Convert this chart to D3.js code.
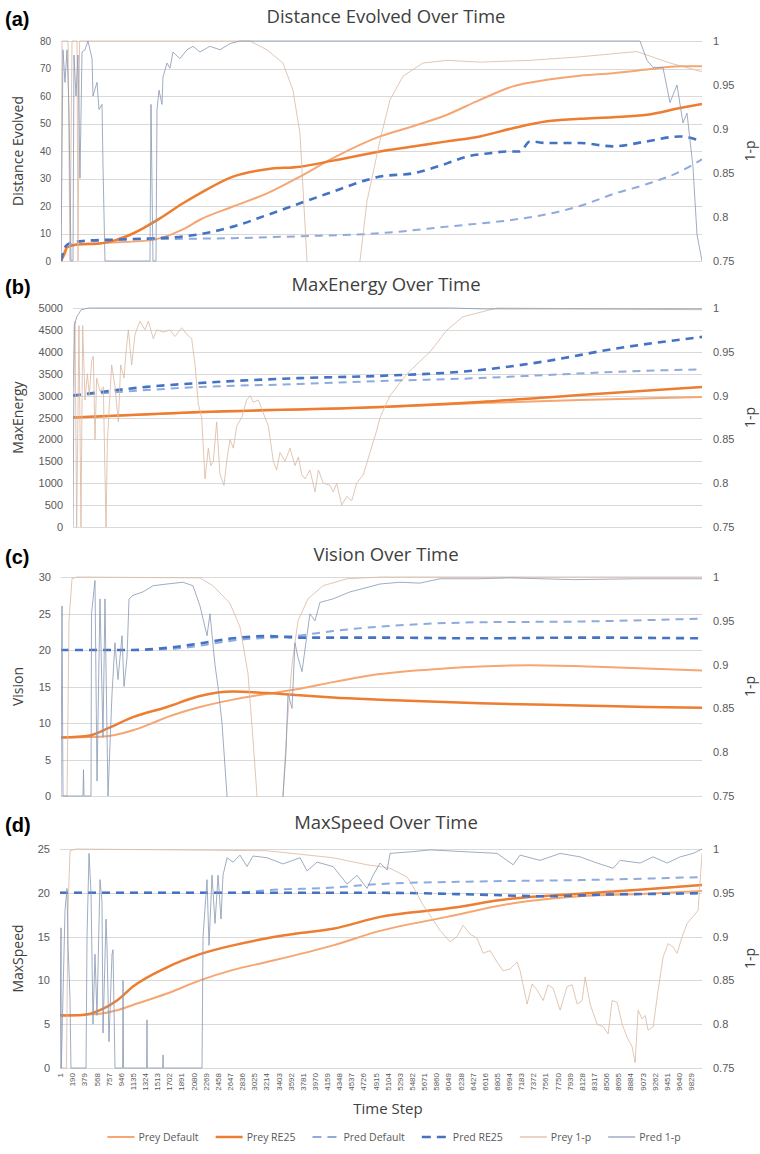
<!DOCTYPE html>
<html>
<head>
<meta charset="utf-8">
<script src="https://cdn.jsdelivr.net/npm/d3@7"></script>
<style>
  body { margin: 0; background: #fff; }
  svg { display: block; font-family: "Open Sans", "Noto Sans", sans-serif; }
</style>
</head>
<body>
<svg id="chart" width="760" height="1154"></svg>
<script>
// ---------- shared axis values ----------
const timeTicks = [1,190,379,568,757,946,1135,1324,1513,1702,1891,2080,2269,2458,2647,2836,3025,3214,3403,3592,
  3781,3970,4159,4348,4537,4726,4915,5104,5293,5482,5671,5860,6049,6238,6427,6616,6805,6994,7183,7372,
  7561,7750,7939,8128,8317,8506,8695,8884,9073,9262,9451,9640,9829];
const rightTicks = [0.75, 0.8, 0.85, 0.9, 0.95, 1];
const distTicks = [0,10,20,30,40,50,60,70,80];
const energyTicks = [0,500,1000,1500,2000,2500,3000,3500,4000,4500,5000];
const visionTicks = [0,5,10,15,20,25,30];
const speedTicks = [0,5,10,15,20,25];

// ---------- (a) Distance Evolved: [time step, value] ----------
const distPreyDefault = [[0,0],[94,5],[250,6],[608,6.5],[1388,7.5],[1544,8.3],[1903,11.5],[2168,15],[2683,19.8],[3214,24.6],
  [3728,30.7],[4243,37.4],[4976,45.3],[5491,49],[6022,53.2],[6536,58.6],[7051,63.5],[7582,65.9],[8096,67.4],[8611,68.3],
  [9142,69.6],[9656,70.8],[10000,70.8]];
const distPreyRE25 = [[0,0],[62,3],[94,5],[250,6],[608,6.4],[842,7.5],[1123,10],[1544,15.5],[1903,21],[2168,24.6],
  [2683,30.7],[3214,33.4],[3728,34.3],[4243,36.5],[4976,39.8],[5491,41.6],[6022,43.5],[6536,45.3],[7051,48.3],[7582,50.8],
  [8096,51.7],[8611,52.3],[9142,53.2],[9656,55.6],[10000,57.1]];
const distPredDefault = [[0,0],[62,5],[140,6.5],[608,7.5],[1654,8],[2683,8.3],[3728,9],[4976,10.1],[6022,12.5],[7051,15],
  [7582,17],[8096,20],[8611,24.3],[9142,28],[9656,32.5],[10000,37]];
const distPredRE25 = [[0,0],[62,5],[140,6.5],[343,7.3],[874,7.8],[1388,8.2],[1903,8.9],[2683,12.5],[3214,16.7],[3728,21],
  [4243,25.2],[4774,29.5],[4976,30.7],[5491,31.9],[6022,35.5],[6334,38],[6692,39.2],[6958,39.8],[7160,39.8],[7316,43.5],
  [7582,42.9],[8096,42.9],[8611,41.7],[9142,43.5],[9656,45.3],[10000,43.5]];
const distPrey1p = [[0,0.76],[16,1],[110,1],[140,0.75],[172,1],[250,1],[265,0.75],[290,1],[2948,1],[3214,0.99],
  [3463,0.975],[3619,0.944],[3728,0.895],[3838,0.75],[3900,0.7],[4600,0.7],[4664,0.75],[4774,0.818],[4976,0.887],[5132,0.933],
  [5335,0.96],[5647,0.975],[6022,0.978],[6536,0.976],[7316,0.978],[8096,0.982],[8985,0.988],[9500,0.975],[10000,0.965]];
const distPred1p = [[0,0.75],[31,0.99],[62,0.953],[94,0.99],[125,0.922],[156,0.75],[187,0.75],[203,0.984],[234,0.9375],[265,0.984],
  [296,0.844],[328,0.9875],[374,0.99],[421,1],[484,0.98],[499,0.9375],[562,0.953],[593,0.922],[640,0.928],[655,0.859],
  [686,0.75],[1388,0.75],[1404,0.928],[1435,0.75],[1482,0.75],[1498,0.922],[1529,0.944],[1576,0.928],[1591,0.959],[1654,0.975],
  [1700,0.969],[1747,0.9875],[1856,0.98],[1966,0.99],[2059,0.994],[2168,0.9875],[2324,0.994],[2480,0.99],[2636,0.997],[2792,1],
  [9032,1],[9142,0.978],[9235,0.97],[9391,0.97],[9500,0.93],[9610,0.95],[9703,0.907],[9766,0.918],[9859,0.857],[9922,0.78],
  [10000,0.75]];

// ---------- (b) MaxEnergy ----------
const energyPreyDefault = [[0,2500],[2019,2620],[4881,2735],[6471,2830],[8061,2900],[10000,2968]];
const energyPreyRE25 = [[0,2500],[2019,2625],[4881,2740],[6471,2854],[8061,3014],[10000,3196]];
const energyPredDefault = [[0,3000],[1177,3128],[2019,3196],[3609,3265],[4881,3333],[6471,3400],[7537,3470],[8586,3540],[10000,3600]];
const energyPredRE25 = [[0,3000],[1177,3200],[2019,3288],[3609,3400],[4881,3450],[6471,3584],[7537,3790],[8586,4064],[10000,4340]];
const energyPrey1p = [[0,0.91],[32,0.985],[58,0.75],[95,0.98],[127,0.75],[154,0.98],[191,0.895],[228,0.925],[260,0.9],[297,0.94],
  [323,0.945],[350,0.85],[376,0.92],[429,0.905],[482,0.91],[525,0.75],[546,0.845],[578,0.89],[615,0.935],[668,0.91],
  [721,0.87],[758,0.935],[811,0.92],[843,0.95],[880,0.975],[933,0.935],[986,0.97],[1065,0.985],[1145,0.975],[1198,0.985],
  [1277,0.965],[1330,0.975],[1436,0.9725],[1542,0.975],[1622,0.9675],[1728,0.9775],[1807,0.97],[1887,0.965],[1940,0.935],[1993,0.89],
  [2046,0.875],[2099,0.805],[2152,0.84],[2189,0.82],[2231,0.825],[2284,0.87],[2337,0.81],[2401,0.7975],[2443,0.825],[2496,0.85],
  [2549,0.84],[2602,0.865],[2682,0.875],[2761,0.895],[2814,0.9],[2867,0.8925],[2947,0.895],[3026,0.88],[3106,0.865],[3185,0.825],
  [3238,0.815],[3291,0.835],[3371,0.825],[3450,0.84],[3530,0.82],[3583,0.83],[3636,0.81],[3689,0.805],[3768,0.815],[3848,0.79],
  [3901,0.815],[3980,0.8],[4086,0.7975],[4139,0.79],[4192,0.8],[4272,0.775],[4351,0.785],[4431,0.78],[4510,0.8],[4616,0.81],
  [4722,0.835],[4828,0.86],[4881,0.875],[5040,0.9],[5310,0.925],[5676,0.95],[5946,0.975],[6200,0.99],[6741,1],[10000,0.998]];
const energyPred1p = [[0,0.75],[20,0.98],[60,0.99],[130,0.998],[250,1],[6000,1],[6500,0.999],[10000,0.999]];

// ---------- (c) Vision ----------
const visionPreyDefault = [[0,8],[608,8.1],[1123,9],[1400,9.9],[1654,10.8],[2168,12.2],[2683,13.2],[3214,14],[3728,14.7],[4243,15.6],
  [4976,16.7],[6022,17.5],[7316,17.9],[8362,17.7],[10000,17.2]];
const visionPreyRE25 = [[0,8],[452,8.3],[764,9.4],[1123,10.8],[1654,12.2],[2168,13.7],[2683,14.3],[3214,14.1],[3728,13.8],[4243,13.5],
  [4976,13.2],[6536,12.7],[8096,12.4],[9142,12.2],[10000,12.1]];
const visionPredDefault = [[0,20],[1123,20],[1654,20.1],[2168,20.6],[2683,21.3],[3728,22],[4243,22.6],[4976,23.2],[6536,23.8],[8096,23.9],[10000,24.3]];
const visionPredRE25 = [[0,20],[1123,20],[1654,20.3],[2168,20.9],[2683,21.6],[3214,21.9],[3728,21.7],[4976,21.7],[6536,21.6],[8096,21.7],[10000,21.6]];
const visionPrey1p = [[0,0.75],[94,0.75],[125,0.95],[172,0.998],[250,1],[2168,0.999],[2371,0.99],[2636,0.97],[2792,0.943],[2917,0.89],
  [2995,0.815],[3058,0.75],[3120,0.7],[3400,0.7],[3463,0.75],[3526,0.83],[3604,0.9],[3697,0.95],[3853,0.975],[4087,0.99],
  [4462,0.998],[5000,1],[10000,1]];
const visionPred1p = [[0,0.75],[16,0.967],[31,0.75],[343,0.75],[351,0.78],[359,0.75],[468,0.75],[476,0.958],[530,0.996],[562,0.767],
  [608,0.975],[655,0.817],[686,0.975],[733,0.75],[796,0.867],[842,0.925],[889,0.883],[952,0.933],[983,0.875],[1030,0.908],
  [1061,0.975],[1123,0.979],[1279,0.983],[1435,0.99],[1654,0.992],[1903,0.994],[2059,0.99],[2168,0.967],[2278,0.933],[2324,0.958],
  [2402,0.9],[2449,0.875],[2512,0.833],[2590,0.75],[2700,0.7],[3400,0.7],[3463,0.75],[3510,0.8],[3541,0.867],[3604,0.85],
  [3650,0.925],[3697,0.908],[3760,0.892],[3806,0.917],[3884,0.958],[3962,0.95],[4040,0.971],[4243,0.975],[4508,0.983],[4774,0.988],
  [4976,0.992],[5288,0.994],[5600,0.993],[5912,0.998],[6500,0.998],[7000,0.999],[8000,0.997],[9000,0.998],[10000,0.998]];

// ---------- (d) MaxSpeed ----------
const speedPreyDefault = [[0,6],[623,6.2],[888,6.6],[1137,7.2],[1667,8.5],[2181,10],[2695,11.2],[3225,12.1],[4253,14],[4986,15.65],
  [6030,17.25],[7058,18.8],[8102,19.6],[9130,19.9],[10000,20.2]];
const speedPreyRE25 = [[0,6],[358,6.05],[623,6.6],[888,7.7],[1137,9.3],[1667,11.5],[2181,13],[2695,14],[3225,14.8],[3739,15.4],
  [4253,15.9],[4986,17.25],[6030,18.2],[7058,19.35],[8102,19.9],[9130,20.4],[10000,20.9]];
const speedPredDefault = [[0,20],[2695,20],[3225,20.3],[4253,20.6],[4986,21],[6544,21.3],[8102,21.45],[10000,21.8]];
const speedPredRE25 = [[0,20],[3000,20],[5000,20],[6500,19.8],[7600,19.6],[8500,19.8],[9500,19.9],[10000,19.95]];
const speedPrey1p = [[0,0.75],[100,0.75],[125,0.93],[156,0.998],[250,1],[3225,0.998],[4253,0.99],[4783,0.982],[4986,0.98],[5141,0.978],
  [5406,0.968],[5500,0.957],[5655,0.936],[5811,0.919],[5920,0.907],[6076,0.894],[6185,0.9],[6279,0.913],[6388,0.903],[6497,0.898],
  [6590,0.881],[6699,0.884],[6808,0.871],[6902,0.861],[7011,0.863],[7120,0.871],[7167,0.861],[7276,0.823],[7354,0.846],[7432,0.839],
  [7525,0.827],[7603,0.845],[7681,0.841],[7790,0.816],[7899,0.843],[7977,0.845],[8055,0.823],[8133,0.827],[8180,0.854],[8257,0.823],
  [8366,0.8],[8460,0.797],[8538,0.789],[8600,0.827],[8678,0.825],[8756,0.8],[8834,0.785],[8912,0.774],[8959,0.756],[9005,0.816],
  [9067,0.806],[9114,0.81],[9161,0.793],[9239,0.797],[9317,0.839],[9395,0.877],[9473,0.892],[9551,0.888],[9613,0.881],[9691,0.9],
  [9769,0.915],[9862,0.923],[9940,0.93],[10000,0.995]];
const speedPred1p = [[0,0.75],[16,0.91],[20,0.75],[78,0.93],[109,0.955],[125,0.89],[156,0.83],[171,0.75],[405,0.75],[421,0.9],
  [452,0.995],[483,0.95],[514,0.8],[545,0.88],[576,0.81],[623,0.965],[654,0.94],[670,0.79],[717,0.92],[732,0.89],
  [763,0.78],[810,0.88],[826,0.885],[857,0.75],[975,0.75],[982,0.85],[990,0.75],[1350,0.75],[1355,0.805],[1360,0.75],
  [1600,0.75],[1605,0.765],[1610,0.75],[2212,0.75],[2228,0.9],[2290,0.965],[2321,0.89],[2368,0.97],[2415,0.915],[2462,0.97],
  [2508,0.92],[2539,0.97],[2602,0.99],[2695,0.985],[2804,0.993],[2913,0.98],[3007,0.992],[3225,0.99],[3474,0.983],[3739,0.99],
  [3848,0.975],[4004,0.985],[4253,0.98],[4471,0.96],[4627,0.97],[4783,0.955],[4877,0.97],[4986,0.984],[5095,0.976],[5141,0.995],
  [5500,0.997],[5765,0.999],[6279,0.997],[6808,0.995],[7058,0.982],[7167,0.993],[7478,0.987],[7790,0.995],[8102,0.991],[8366,0.984],
  [8616,0.978],[8724,0.987],[9036,0.984],[9239,0.991],[9457,0.984],[9660,0.991],[9862,0.995],[10000,1]];

// ---------- styles ----------
const seriesNames = ["Prey Default", "Prey RE25", "Pred Default", "Pred RE25", "Prey 1-p", "Pred 1-p"];
const seriesStyle = [
  { color: "#F5A672", width: 2,    dash: null,  secondary: false },
  { color: "#ED7D31", width: 2.5,  dash: null,  secondary: false },
  { color: "#8FAADC", width: 2,    dash: "8,6", secondary: false },
  { color: "#4472C4", width: 2.6,  dash: "8,6", secondary: false },
  { color: "#DAB7A1", width: 0.8,  dash: null,  secondary: true  },
  { color: "#8797B3", width: 0.8,  dash: null,  secondary: true  }
];

const plotRight = 702;
const panels = [
  { tag: "(a)", title: "Distance Evolved Over Time", yLabel: "Distance Evolved", left: 61, top: 41, bottom: 261,
    yMax: 80, yTicks: distTicks, tickFont: 10, baseY: 24,
    series: [distPreyDefault, distPreyRE25, distPredDefault, distPredRE25, distPrey1p, distPred1p] },
  { tag: "(b)", title: "MaxEnergy Over Time", yLabel: "MaxEnergy", left: 73, top: 308, bottom: 527,
    yMax: 5000, yTicks: energyTicks, tickFont: 11, baseY: 292,
    series: [energyPreyDefault, energyPreyRE25, energyPredDefault, energyPredRE25, energyPrey1p, energyPred1p] },
  { tag: "(c)", title: "Vision Over Time", yLabel: "Vision", left: 61, top: 577, bottom: 796,
    yMax: 30, yTicks: visionTicks, tickFont: 11, baseY: 562,
    series: [visionPreyDefault, visionPreyRE25, visionPredDefault, visionPredRE25, visionPrey1p, visionPred1p] },
  { tag: "(d)", title: "MaxSpeed Over Time", yLabel: "MaxSpeed", left: 60, top: 849, bottom: 1068,
    yMax: 25, yTicks: speedTicks, tickFont: 11, baseY: 830,
    series: [speedPreyDefault, speedPreyRE25, speedPredDefault, speedPredRE25, speedPrey1p, speedPred1p], showX: true }
];

const svg = d3.select("#chart");
svg.append("rect").attr("width", 760).attr("height", 1154).attr("fill", "#fff");
const defs = svg.append("defs");

panels.forEach((p, i) => {
  const x = d3.scaleLinear().domain([0, 10000]).range([p.left, plotRight]);
  const y = d3.scaleLinear().domain([0, p.yMax]).range([p.bottom, p.top]);
  const y2 = d3.scaleLinear().domain([0.75, 1]).range([p.bottom, p.top]);
  const g = svg.append("g");

  // panel tag and title
  g.append("text").attr("x", 5).attr("y", p.baseY + 2)
    .attr("font-family", "'Liberation Sans', Arial, sans-serif").attr("font-weight", "bold")
    .attr("font-size", 20).attr("fill", "#000").text(p.tag);
  g.append("text").attr("x", 386).attr("y", p.baseY - 1).attr("text-anchor", "middle")
    .attr("font-size", 18.5).attr("fill", "#404040").text(p.title);

  // horizontal gridlines
  g.append("g").selectAll("line").data(p.yTicks).join("line")
    .attr("x1", p.left).attr("x2", plotRight)
    .attr("y1", d => Math.round(y(d)) + 0.5).attr("y2", d => Math.round(y(d)) + 0.5)
    .attr("stroke", "#D9D9D9").attr("stroke-width", 1);

  // left axis
  const gl = g.append("g").attr("transform", `translate(${p.left},0)`)
    .call(d3.axisLeft(y).tickValues(p.yTicks).tickSize(0).tickPadding(10).tickFormat(d => String(d)));
  gl.select(".domain").remove();
  gl.selectAll("text").attr("font-size", p.tickFont).attr("fill", "#595959").attr("font-family", null);

  // right axis
  const gr = g.append("g").attr("transform", `translate(${plotRight},0)`)
    .call(d3.axisRight(y2).tickValues(rightTicks).tickSize(0).tickPadding(11).tickFormat(d => String(d)));
  gr.select(".domain").remove();
  gr.selectAll("text").attr("font-size", 11).attr("fill", "#595959").attr("font-family", null);

  // axis titles
  const midY = (p.top + p.bottom) / 2;
  g.append("text").attr("transform", `translate(23,${midY}) rotate(-90)`).attr("text-anchor", "middle")
    .attr("font-size", 14).attr("fill", "#404040").text(p.yLabel);
  g.append("text").attr("transform", `translate(755,${midY}) rotate(-90)`).attr("text-anchor", "middle")
    .attr("font-size", 14).attr("fill", "#404040").text("1-p");

  // clip region for the plot lines
  const clipId = "plotclip" + i;
  defs.append("clipPath").attr("id", clipId).append("rect")
    .attr("x", p.left).attr("y", p.top - 2).attr("width", plotRight - p.left).attr("height", p.bottom - p.top + 3);

  const lines = g.append("g").attr("clip-path", `url(#${clipId})`);
  seriesStyle.forEach((s, k) => {
    const sy = s.secondary ? y2 : y;
    const line = d3.line()
      .x(d => x(d[0])).y(d => sy(d[1]))
      .curve(s.secondary ? d3.curveLinear : d3.curveMonotoneX);
    lines.append("path").datum(p.series[k])
      .attr("d", line).attr("fill", "none")
      .attr("stroke", s.color).attr("stroke-width", s.width)
      .attr("stroke-dasharray", s.dash)
      .attr("stroke-linejoin", "round");
  });

  // time-step axis
  if (p.showX) {
    const gx = g.append("g").attr("transform", `translate(0,${p.bottom})`)
      .call(d3.axisBottom(x).tickValues(timeTicks).tickSize(0).tickFormat(d => String(d)));
    gx.select(".domain").remove();
    gx.selectAll("text")
      .attr("transform", "rotate(-90)")
      .attr("x", -5).attr("y", 0).attr("dy", "0.32em")
      .style("text-anchor", "end")
      .attr("font-size", 8).attr("fill", "#595959").attr("font-family", null);
    g.append("text").attr("x", 388).attr("y", 1114).attr("text-anchor", "middle")
      .attr("font-size", 15).attr("fill", "#404040").text("Time Step");
  }
});

// legend
const legend = svg.append("g");
const items = legend.selectAll("g").data(seriesNames).join("g");
items.append("line").attr("x1", 0).attr("x2", 27).attr("y1", 0).attr("y2", 0)
  .attr("stroke", (d, k) => seriesStyle[k].color)
  .attr("stroke-width", (d, k) => Math.max(seriesStyle[k].width, 1.2))
  .attr("stroke-dasharray", (d, k) => seriesStyle[k].dash ? "9,6" : null);
items.append("text").attr("x", 31).attr("y", 0).attr("dy", "0.35em")
  .attr("font-size", 10.5).attr("fill", "#595959").text(d => d);
const widths = [];
items.each(function () {
  widths.push(31 + this.querySelector("text").getComputedTextLength());
});
const gap = 17;
const total = d3.sum(widths) + gap * (widths.length - 1);
let cursor = 394 - total / 2;
items.attr("transform", (d, k) => {
  const t = `translate(${cursor},1137)`;
  cursor += widths[k] + gap;
  return t;
});
</script>
</body>
</html>
